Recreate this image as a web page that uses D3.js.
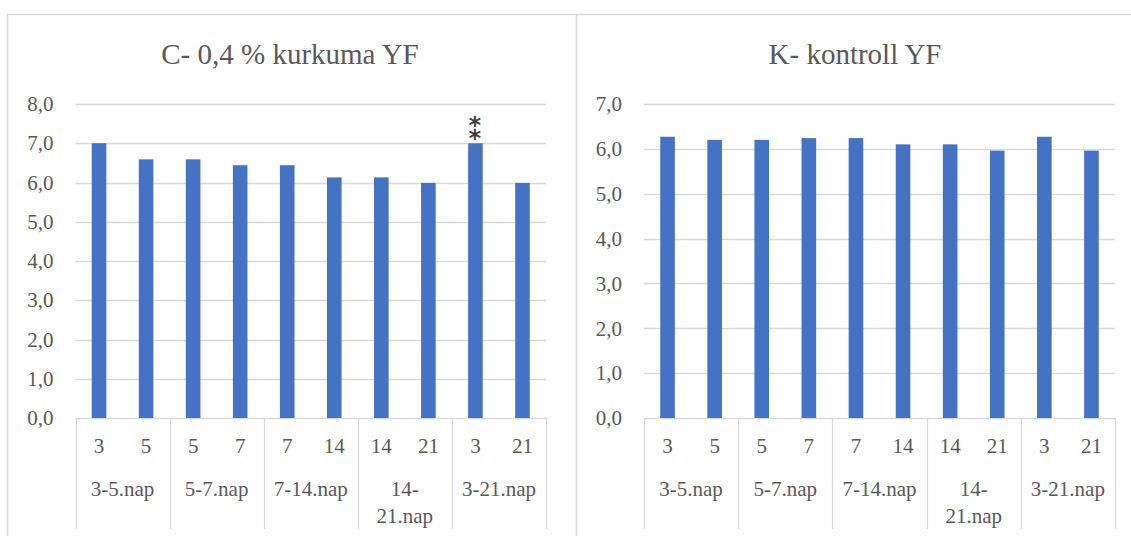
<!DOCTYPE html>
<html>
<head>
<meta charset="utf-8">
<script src="https://cdn.jsdelivr.net/npm/d3@7"></script>
<style>
  html, body { margin: 0; padding: 0; background: #fff; }
  svg { display: block; }
</style>
</head>
<body>
<svg id="chart" width="1131" height="536" font-family="'Liberation Serif', Tinos, 'Times New Roman', 'DejaVu Serif', serif"></svg>
<script>
// Day labels under each bar and the day-interval groups they belong to
const dayLabels = ["3", "5", "5", "7", "7", "14", "14", "21", "3", "21"];
const groupLabels = [["3-5.nap"], ["5-7.nap"], ["7-14.nap"], ["14-", "21.nap"], ["3-21.nap"]];

// YF values per panel
const kurkumaValues = [7.0, 6.59, 6.59, 6.44, 6.44, 6.13, 6.13, 5.99, 7.0, 5.99];
const kontrollValues = [6.27, 6.20, 6.20, 6.24, 6.24, 6.10, 6.10, 5.96, 6.27, 5.96];

// Y tick values per panel
const kurkumaTicks = [0, 1, 2, 3, 4, 5, 6, 7, 8];
const kontrollTicks = [0, 1, 2, 3, 4, 5, 6, 7];

const FONT = "'Liberation Serif', Tinos, 'Times New Roman', 'DejaVu Serif', serif";
const svg = d3.select("#chart");
const fmt = v => d3.format(".1f")(v).replace(".", ",");
const gridColor = "#d9d9d9";
const textColor = "#595959";
const barColor = "#4472c4";

function panel(opts) {
  const g = svg.append("g");
  // frame
  g.append("path")
    .attr("d", `M${opts.boxX},540 V${14.5} H${opts.boxX2}`)
    .attr("fill", "none").attr("stroke", gridColor).attr("stroke-width", 1.5);

  g.append("text")
    .attr("x", opts.titleX).attr("y", 64)
    .attr("text-anchor", "middle")
    .attr("font-size", 29).attr("fill", textColor)
    .text(opts.title);

  const y = d3.scaleLinear().domain([0, d3.max(opts.ticks)]).range([418, 104]);
  const x = d3.scaleBand().domain(d3.range(opts.values.length))
    .range([opts.x0, opts.x1]).paddingInner(0.69).paddingOuter(0.345);

  // gridlines
  g.append("g").selectAll("line").data(opts.ticks).join("line")
    .attr("x1", opts.x0).attr("x2", opts.x1)
    .attr("y1", d => Math.round(y(d)) + 0.5).attr("y2", d => Math.round(y(d)) + 0.5)
    .attr("stroke", gridColor).attr("stroke-width", 1.3);

  // y tick labels
  const yAxis = d3.axisLeft(y).tickValues(opts.ticks).tickFormat(fmt).tickSize(0).tickPadding(0);
  const ya = g.append("g").attr("transform", `translate(${opts.x0 - 22},0)`).call(yAxis)
    .attr("font-family", FONT).attr("font-size", 21);
  ya.select(".domain").remove();
  ya.selectAll("text").attr("fill", textColor);

  // bars
  g.append("g").selectAll("rect").data(opts.values).join("rect")
    .attr("x", (d, i) => x(i)).attr("width", x.bandwidth())
    .attr("y", d => y(d)).attr("height", d => y(0) - y(d))
    .attr("fill", barColor);

  // category hierarchy: separators between day groups
  const step = x.step();
  const groupEdges = d3.range(groupLabels.length + 1).map(k => opts.x0 + k * 2 * step);
  g.append("g").selectAll("line").data(groupEdges).join("line")
    .attr("x1", d => Math.round(d) + 0.5).attr("x2", d => Math.round(d) + 0.5)
    .attr("y1", 418).attr("y2", 529)
    .attr("stroke", gridColor).attr("stroke-width", 1.3);

  // day labels
  g.append("g").selectAll("text").data(dayLabels).join("text")
    .attr("x", (d, i) => x(i) + x.bandwidth() / 2).attr("y", 453)
    .attr("text-anchor", "middle").attr("font-size", 21).attr("fill", textColor)
    .text(d => d);

  // group labels (possibly wrapped)
  const gl = g.append("g").selectAll("text").data(groupLabels).join("text")
    .attr("x", (d, k) => opts.x0 + (2 * k + 1) * step)
    .attr("y", 496)
    .attr("text-anchor", "middle").attr("font-size", 21).attr("fill", textColor);
  gl.selectAll("tspan").data(d => d).join("tspan")
    .attr("x", function () { return d3.select(this.parentNode).attr("x"); })
    .attr("dy", (d, j) => j === 0 ? 0 : 27)
    .text(d => d);

  return { x, y, g };
}

const left = panel({
  boxX: 7.5, boxX2: 577, title: "C- 0,4 % kurkuma YF", titleX: 290,
  x0: 75.5, x1: 546, values: kurkumaValues, ticks: kurkumaTicks
});

// significance mark above the 3-21 day bar: two stacked asterisks
const starIdx = 8;
left.g.append("text")
  .attr("x", left.x(starIdx) + left.x.bandwidth() / 2)
  .attr("y", left.y(kurkumaValues[starIdx]) - 3)
  .attr("text-anchor", "middle")
  .attr("font-family", "'DejaVu Sans', sans-serif")
  .attr("font-size", 30).attr("font-weight", "bold")
  .attr("fill", "#404040")
  .text("\u2051");

panel({
  boxX: 576.5, boxX2: 1140, title: "K- kontroll YF", titleX: 855,
  x0: 644, x1: 1115, values: kontrollValues, ticks: kontrollTicks
});
</script>
</body>
</html>
